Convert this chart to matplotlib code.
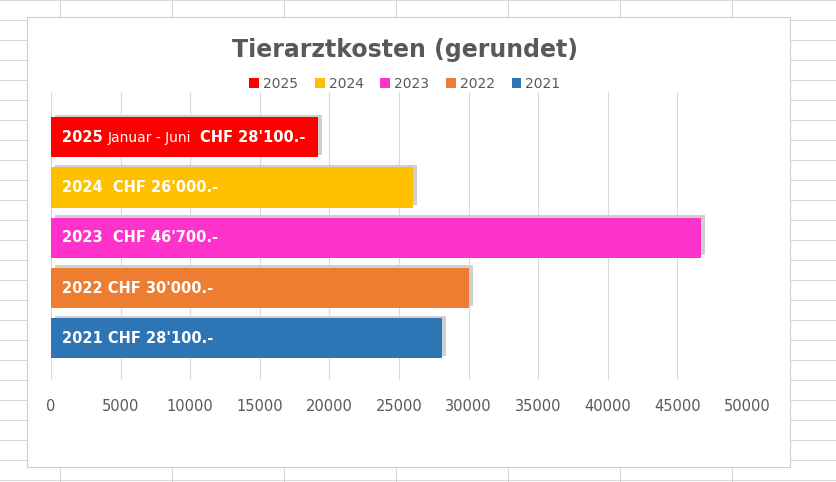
import matplotlib.pyplot as plt
from matplotlib.patches import Rectangle

years = ["2021", "2022", "2023", "2024", "2025"]
values = [28100, 30000, 46700, 26000, 19200]
colors = ["#2e75b6", "#ed7d31", "#ff33cc", "#ffc000", "#ff0000"]
labels = ["2021 CHF 28'100.-", "2022 CHF 30'000.-", "2023  CHF 46'700.-",
          "2024  CHF 26'000.-", None]
ticks = list(range(0, 50001, 5000))

W, H = 837, 482
fig = plt.figure(figsize=(W / 100, H / 100), dpi=100)

# spreadsheet background
bg = fig.add_axes([0, 0, 1, 1])
bg.set_xlim(0, W); bg.set_ylim(H, 0); bg.axis("off")
for x in [60, 172, 284, 396, 508, 620, 732]:
    bg.plot([x, x], [0, H], color="#d9d9d9", lw=0.8, zorder=1)
for y in range(0, H, 20):
    bg.plot([0, W], [y, y], color="#d9d9d9", lw=0.8, zorder=1)
bg.add_patch(Rectangle((27, 17), 763, 450, facecolor="white", edgecolor="#d0d0d0",
                       lw=0.8, zorder=3))

ax = fig.add_axes([51 / W, 1 - 380 / H, 696 / W, 288 / H])
ax.patch.set_alpha(0)
ax.set_xlim(0, 50000)
ax.set_ylim(-0.83, 4.9)
for t in ticks:
    ax.axvline(t, color="#d9d9d9", lw=0.8, zorder=0)
for i, (v, c) in enumerate(zip(values, colors)):
    ax.barh(i + 0.05, v, height=0.8, color="#cfcfcf", zorder=1, left=300)
    ax.barh(i, v, height=0.8, color=c, zorder=2, label=years[i])
    if labels[i]:
        ax.text(800, i, labels[i], color="white", fontweight="bold",
                fontsize=10.5, va="center", zorder=3)
t1 = ax.text(800, 4, "2025 ", color="white", fontweight="bold", fontsize=10.5, va="center", zorder=3)
t2 = ax.annotate("Januar - Juni  ", xy=(1, 0), xycoords=t1, va="bottom", color="white",
                 fontsize=10, zorder=3)
ax.annotate("CHF 28'100.-", xy=(1, 0), xycoords=t2, va="bottom", color="white",
            fontweight="bold", fontsize=10.5, zorder=3)

ax.set_xticks(ticks)
ax.set_xticklabels([str(t) for t in ticks], color="#595959", fontsize=10.5)
ax.tick_params(axis="x", length=0, pad=14)
ax.set_yticks([])
for s in ax.spines.values():
    s.set_visible(False)

fig.text(405 / W, 1 - 50 / H, "Tierarztkosten (gerundet)", ha="center", va="center",
         fontsize=17, fontweight="bold", color="#595959")
h, l = ax.get_legend_handles_labels()
fig.legend(h[::-1], l[::-1], loc="center", bbox_to_anchor=(405 / W, 1 - 84 / H), ncol=5,
           frameon=False, fontsize=10, labelcolor="#595959", handlelength=0.7,
           handleheight=0.7, columnspacing=1.2, handletextpad=0.3)

fig.savefig("out.png", dpi=100)
